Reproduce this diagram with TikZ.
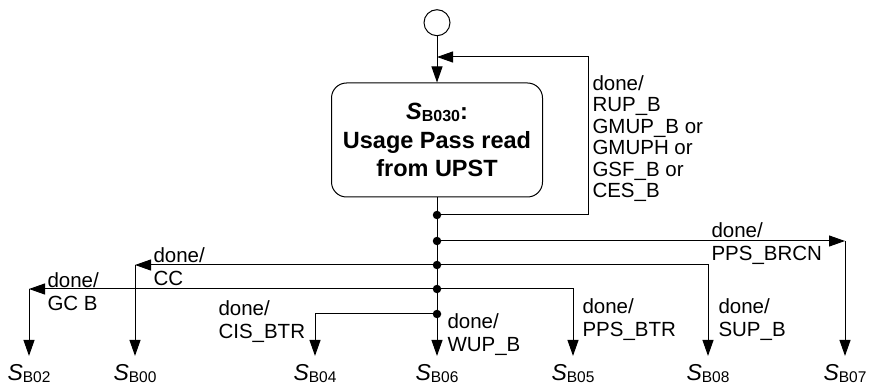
\documentclass[tikz,border=0pt]{standalone}
\usepackage{fontspec}
\setmainfont{Liberation Sans}
\usetikzlibrary{arrows.meta}
\newcommand{\stname}[1]{{\itshape S}\raisebox{-1.5pt}{\fontsize{15.5}{15.5}\selectfont #1}}
\begin{document}
\begin{tikzpicture}[x=1pt,y=-1pt,line width=1pt,
  arr/.style={-{Triangle[length=16pt,width=11pt]}},
  dot/.style={circle,fill,inner sep=0,minimum size=8.5pt},
  lbl/.style={font=\fontsize{20.5}{23.5}\selectfont,align=left,inner sep=0,anchor=north west},
  st/.style={font=\fontsize{23}{23}\selectfont,inner sep=0,anchor=base,outer ysep=8.5pt},
  statebox/.style={draw,rounded corners=15pt,minimum width=211pt,minimum height=114pt,align=center,
    font=\bfseries\fontsize{23.5}{28.5}\selectfont}]
\useasboundingbox (0,0) rectangle (870,387);
% initial state and main state
\node[circle,draw,minimum size=26pt,inner sep=0] (init) at (437,22.7) {};
\node[statebox] (s030) at (437,140) {{\itshape S}\raisebox{-2pt}{\fontsize{16}{16}\selectfont\bfseries B030}:\\Usage Pass read\\from UPST};
% target states
\node[st] (s02) at (29,380.5) {\stname{B02}};
\node[st] (s00) at (135,380.5) {\stname{B00}};
\node[st] (s04) at (315,380.5) {\stname{B04}};
\node[st] (s06) at (437,380.5) {\stname{B06}};
\node[st] (s05) at (573,380.5) {\stname{B05}};
\node[st] (s08) at (708,380.5) {\stname{B08}};
\node[st] (s07) at (845,380.5) {\stname{B07}};
% junctions
\coordinate (j1) at (437,215);
\coordinate (j2) at (437,241);
\coordinate (j3) at (437,265);
\coordinate (j4) at (437,289);
\coordinate (j5) at (437,314);
\coordinate (loop) at (588,57);
% connectors
\draw[arr] (init) -- (s030);
\draw[arr] (s030.south) -- (s06.north);
\draw[arr] (j1) -| (loop) -- (loop -| s030.north);
\draw[arr] (j2) -- (j2 -| s07.north);
\draw[arr] (j2 -| s07.north) -- (s07.north);
\draw[arr] (j3) -- (j3 -| s00.north);
\draw[arr] (j3 -| s00.north) -- (s00.north);
\draw[arr] (j3) -| (s08.north);
\draw[arr] (j4) -- (j4 -| s02.north);
\draw[arr] (j4 -| s02.north) -- (s02.north);
\draw[arr] (j4) -| (s05.north);
\draw[arr] (j5) -| (s04.north);
% dots
\foreach \j in {j1,j2,j3,j4,j5} \node[dot] at (\j) {};
% labels
\node[lbl,font=\fontsize{20.5}{21.5}\selectfont] (lloop) at (592,75) {done/\\RUP\_B\\GMUP\_B or\\GMUPH or\\GSF\_B or\\CES\_B};
\node[lbl] (l07) at (711,222) {done/\\PPS\_BRCN};
\node[lbl] (l00) at (153,247) {done/\\CC};
\node[lbl] (l02) at (47,272) {done/\\GC B};
\node[lbl] (l04) at (218,300) {done/\\CIS\_BTR};
\node[lbl] (l06) at (447,313) {done/\\WUP\_B};
\node[lbl] (l05) at (582,298) {done/\\PPS\_BTR};
\node[lbl] (l08) at (718,298) {done/\\SUP\_B};
\end{tikzpicture}
\end{document}
